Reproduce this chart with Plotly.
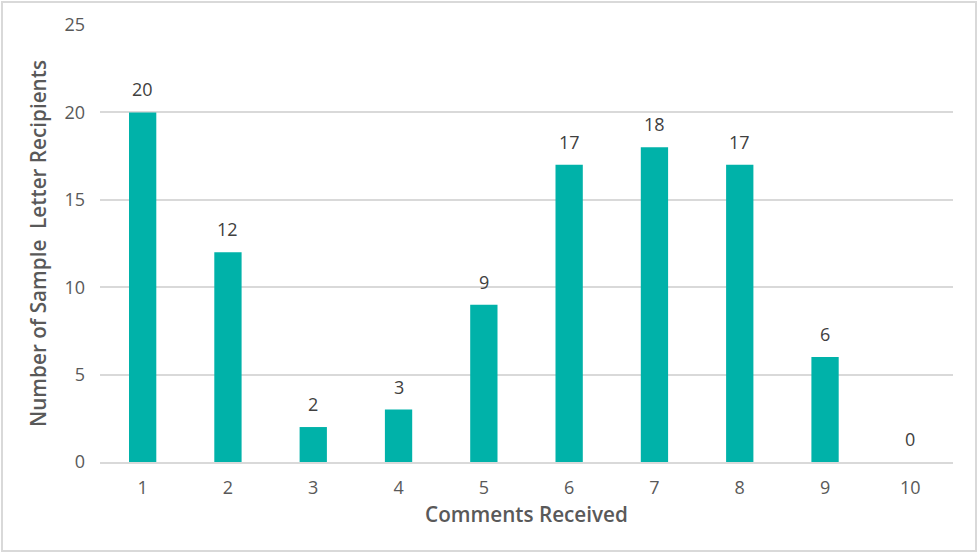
import plotly.graph_objects as go

categories = ["1", "2", "3", "4", "5", "6", "7", "8", "9", "10"]
recipients = [20, 12, 2, 3, 9, 17, 18, 17, 6, 0]
y_ticks = [0, 5, 10, 15, 20, 25]

W, H = 979, 554
ml, mr, mt, mb = 100, 26, 25, 92
pw, ph = W - ml - mr, H - mt - mb

fig = go.Figure(go.Bar(
    x=categories, y=recipients,
    marker=dict(color="#00B2A9", line=dict(width=0)),
    width=0.32, hoverinfo="skip",
))

# category axis positions are indices 0..n-1
for i, v in enumerate(recipients):
    fig.add_annotation(
        x=i, y=v, text=str(v), showarrow=False, yanchor="bottom", yshift=9,
        font=dict(size=18, color="#404040"),
    )

fig.update_layout(
    width=W, height=H,
    margin=dict(l=ml, r=mr, t=mt, b=mb),
    paper_bgcolor="white", plot_bgcolor="white",
    font=dict(family="Open Sans, sans-serif", color="#595959", size=17),
    showlegend=False,
    xaxis=dict(
        type="category", showgrid=False, range=[-0.5, len(categories) - 0.5],
        showline=True, linecolor="#d9d9d9", linewidth=2,
        ticks="", ticklabelstandoff=8, tickfont=dict(size=18, color="#595959"),
        title=dict(text="Comments Received", font=dict(size=20.7, color="#595959", weight=600), standoff=10),
    ),
    yaxis=dict(
        range=[0, 25], tickvals=y_ticks, showgrid=True, gridcolor="#d9d9d9", gridwidth=1.5,
        zeroline=False, showline=False, ticks="", ticklabelstandoff=14,
        tickfont=dict(size=18, color="#595959"),
        title=dict(text="Number of Sample  Letter Recipients", font=dict(size=20.7, color="#595959", weight=600), standoff=12),
    ),
    shapes=[dict(
        type="rect", xref="paper", yref="paper",
        x0=(2 - ml) / pw, x1=(W - 3 - ml) / pw,
        y0=-(H - 3 - mt - ph) / ph, y1=1 + (mt - 2) / ph,
        line=dict(color="#d9d9d9", width=2), fillcolor="rgba(0,0,0,0)", layer="below",
    )],
)

fig.write_html("out.html", config={"displayModeBar": False},
               post_script="document.body.style.margin='0';")
